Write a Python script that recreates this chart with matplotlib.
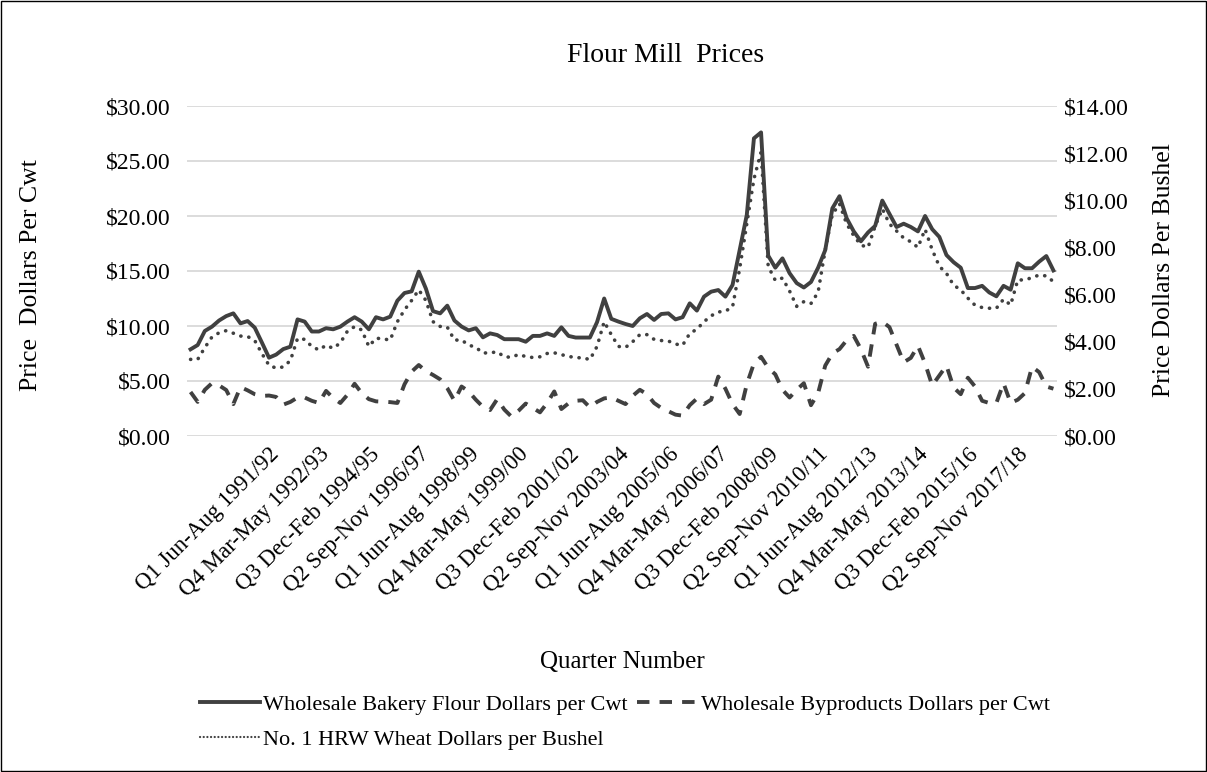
import matplotlib.pyplot as plt
import numpy as np
from matplotlib.patches import Rectangle
from matplotlib.lines import Line2D
from matplotlib.ticker import FuncFormatter

plt.rcParams['font.family'] = ['Liberation Serif', 'DejaVu Serif']

# quarterly prices
flour = [7.88, 8.27, 9.55, 9.94, 10.5, 10.9, 11.15, 10.24, 10.45, 9.85,
         8.5, 7.12, 7.4, 7.9, 8.12, 10.6, 10.4, 9.5, 9.5, 9.8,
         9.7, 9.94, 10.4, 10.8, 10.4, 9.7, 10.8, 10.6, 10.85, 12.3,
         13.0, 13.15, 14.94, 13.4, 11.35, 11.15, 11.85, 10.5, 9.95, 9.6,
         9.8, 8.97, 9.33, 9.18, 8.8, 8.8, 8.8, 8.57, 9.1, 9.1,
         9.33, 9.1, 9.88, 9.1, 8.95, 8.95, 8.95, 10.35, 12.5, 10.65,
         10.4, 10.18, 10.0, 10.7, 11.09, 10.55, 11.09, 11.15, 10.6, 10.8,
         12.06, 11.4, 12.67, 13.12, 13.27, 12.67, 13.73, 16.9, 20.1, 27.06,
         27.6, 16.4, 15.3, 16.15, 14.8, 13.9, 13.5, 14.0, 15.3, 16.9,
         20.7, 21.8, 19.8, 18.6, 17.7, 18.5, 19.1, 21.4, 20.2, 19.0,
         19.3, 19.0, 18.6, 20.0, 18.8, 18.1, 16.45, 15.8, 15.3, 13.45,
         13.45, 13.65, 13.05, 12.7, 13.65, 13.3, 15.7, 15.25, 15.25, 15.85,
         16.36, 15.05]

byproducts = [4.0, 3.1, 4.2, 4.8, 4.6, 4.18, 2.9, 4.45, 4.15, 3.8,
              3.64, 3.68, 3.55, 2.85, 3.1, 3.5, 3.5, 3.2, 3.0, 4.1,
              3.45, 3.0, 3.75, 4.75, 3.9, 3.35, 3.15, 3.12, 3.08, 3.0,
              4.7, 5.85, 6.45, 5.9, 5.55, 5.15, 4.35, 3.2, 4.5, 4.05,
              3.3, 2.65, 2.36, 3.35, 2.4, 1.76, 2.3, 2.95, 2.55, 2.15,
              3.0, 4.05, 2.45, 2.97, 3.2, 3.25, 2.6, 3.1, 3.42, 3.5,
              3.2, 2.9, 3.65, 4.2, 3.8, 3.0, 2.55, 2.25, 1.94, 1.85,
              2.8, 3.4, 2.9, 3.3, 5.4, 4.3, 2.9, 2.0, 4.7, 6.6,
              7.2, 6.2, 5.6, 4.2, 3.5, 4.2, 4.8, 2.8, 3.9, 6.4,
              7.5, 7.9, 8.7, 9.1, 7.9, 6.3, 10.2, 10.4, 9.9, 8.3,
              6.7, 7.1, 8.2, 6.6, 4.6, 5.5, 6.4, 4.4, 3.8, 5.3,
              4.5, 3.2, 3.0, 3.0, 4.8, 3.0, 3.3, 3.9, 6.3, 5.8,
              4.5, 4.3]

wheat = [3.25, 3.25, 3.75, 4.2, 4.38, 4.47, 4.36, 4.24, 4.22, 4.05,
         3.5, 3.0, 2.88, 2.93, 3.2, 4.14, 4.1, 3.8, 3.65, 3.85,
         3.72, 3.95, 4.45, 4.64, 4.5, 3.8, 4.15, 4.12, 4.07, 4.85,
         5.35, 5.75, 6.2, 5.75, 4.85, 4.65, 4.62, 4.07, 4.07, 3.86,
         3.76, 3.52, 3.53, 3.57, 3.36, 3.34, 3.46, 3.37, 3.33, 3.36,
         3.5, 3.53, 3.45, 3.38, 3.32, 3.32, 3.24, 3.8, 4.85, 4.3,
         3.8, 3.76, 4.0, 4.3, 4.3, 4.1, 4.05, 4.03, 3.9, 3.85,
         4.35, 4.53, 4.85, 5.1, 5.26, 5.3, 5.47, 7.1, 9.0, 10.9,
         12.05, 7.2, 6.6, 6.7, 6.15, 5.5, 5.7, 5.62, 6.1, 7.9,
         9.4, 9.85, 9.0, 8.5, 8.1, 8.0, 8.9, 9.64, 9.0, 8.7,
         8.4, 8.24, 8.0, 8.77, 7.9, 7.2, 6.9, 6.4, 6.2, 5.85,
         5.55, 5.45, 5.42, 5.42, 5.8, 5.56, 6.62, 6.62, 6.72, 6.83,
         6.79, 6.55]

tick_labels = ["Q1 Jun-Aug 1991/92", "Q4 Mar-May 1992/93", "Q3 Dec-Feb 1994/95",
               "Q2 Sep-Nov 1996/97", "Q1 Jun-Aug 1998/99", "Q4 Mar-May 1999/00",
               "Q3 Dec-Feb 2001/02", "Q2 Sep-Nov 2003/04", "Q1 Jun-Aug 2005/06",
               "Q4 Mar-May 2006/07", "Q3 Dec-Feb 2008/09", "Q2 Sep-Nov 2010/11",
               "Q1 Jun-Aug 2012/13", "Q4 Mar-May 2013/14", "Q3 Dec-Feb 2015/16",
               "Q2 Sep-Nov 2017/18"]
first_label = 12
label_step = 7

line_color = '#404040'
W, H = 1207, 772

fig = plt.figure(figsize=(W / 100, H / 100), dpi=100)
ax = fig.add_axes([187 / W, 1 - 436 / H, 870 / W, 330 / H])
ax2 = ax.twinx()

x = np.arange(len(flour))
ax.plot(x, flour, color=line_color, lw=2.8)
ax.plot(x, byproducts, color=line_color, lw=2.8, linestyle=(0, (3.2, 2.6)))
ax2.plot(x, wheat, color=line_color, lw=2.6, linestyle=(0, (0.05, 2.2)),
         dash_capstyle='round')

ax.set_xlim(-0.5, len(flour) - 0.5)
ax.set_ylim(0, 30)
ax2.set_ylim(0, 14)
ax.set_yticks(np.arange(0, 31, 5))
ax2.set_yticks(np.arange(0, 15, 2))
money = FuncFormatter(lambda v, p: "${:.2f}".format(v))
ax.yaxis.set_major_formatter(money)
ax2.yaxis.set_major_formatter(money)

ax.yaxis.grid(True, color='#d9d9d9', lw=1.3)
ax.set_axisbelow(True)
for a in (ax, ax2):
    for s in a.spines.values():
        s.set_visible(False)
    a.tick_params(length=0, labelsize=17)
ax.tick_params(axis='y', pad=12)
ax2.tick_params(axis='y', pad=5)

ticks = [first_label + label_step * k for k in range(len(tick_labels))]
ax.set_xticks(ticks)
ax.set_xticklabels(tick_labels, rotation=45, ha='right', va='center',
                   rotation_mode='anchor', fontsize=16.5)
ax.tick_params(axis='x', pad=11)

fig.text(666 / W, 1 - 55 / H, "Flour Mill  Prices", fontsize=20,
         ha='center', va='center')
fig.text(31 / W, 1 - 275 / H, "Price  Dollars Per Cwt", fontsize=18.5,
         rotation=90, ha='center', va='center')
fig.text(1164 / W, 1 - 270 / H, "Price Dollars Per Bushel", fontsize=18.5,
         rotation=90, ha='center', va='center')
fig.text(622 / W, 1 - 662 / H, "Quarter Number", fontsize=18,
         ha='center', va='center')

h_flour = Line2D([], [], color=line_color, lw=2.8)
h_by = Line2D([], [], color=line_color, lw=2.8, linestyle=(0, (3.2, 2.6)))
h_wheat = Line2D([], [], color=line_color, lw=1.6, linestyle=(0, (0.05, 1.6)),
                 dash_capstyle='round')
fig.legend([h_flour, h_wheat, h_by],
           ["Wholesale Bakery Flour Dollars per Cwt",
            "No. 1 HRW Wheat Dollars per Bushel",
            "Wholesale Byproducts Dollars per Cwt"],
           ncol=2, loc='upper left', bbox_to_anchor=(200 / W, 1 - 694 / H),
           frameon=False, fontsize=16, handlelength=2.7, handletextpad=0.15,
           columnspacing=0.42, labelspacing=0.68, borderpad=0, borderaxespad=0)

fig.patches.append(Rectangle((0.0005, 0.0008), 0.999, 0.9985, transform=fig.transFigure,
                             fill=False, edgecolor='black', lw=1.0))

fig.savefig("out.png", dpi=100)
